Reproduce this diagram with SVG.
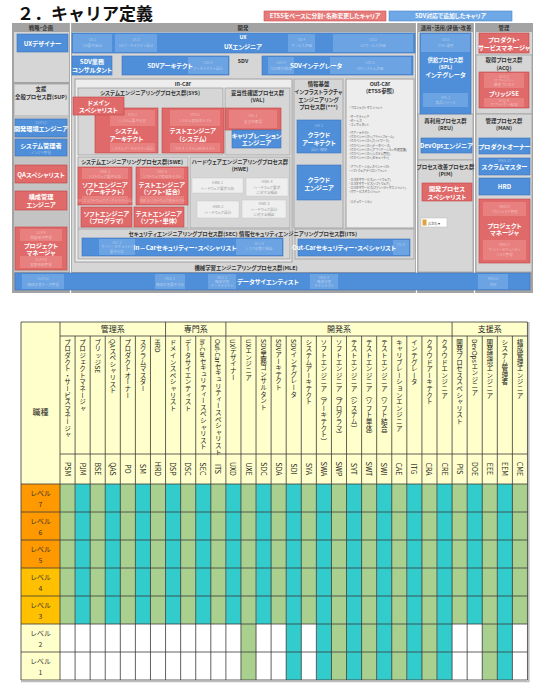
<svg xmlns="http://www.w3.org/2000/svg" width="545" height="692" viewBox="0 0 545 692">
<style>
text{font-family:"Noto Sans CJK JP","Noto Sans",sans-serif;}
.ti{font-size:17px;font-weight:bold;fill:#111}
.lg{font-size:5.8px;font-weight:bold;fill:#fff;text-anchor:middle;font-feature-settings:"palt"}
.bx{font-size:6.2px;font-weight:bold;fill:#fff;text-anchor:middle;font-feature-settings:"palt"}
.bs{font-size:5.2px;font-weight:bold;fill:#fff;text-anchor:middle;font-feature-settings:"palt"}
.hd{font-size:5.4px;font-weight:bold;fill:#333;text-anchor:middle;font-feature-settings:"palt"}
.fb{font-size:3.6px;fill:#fff;fill-opacity:.45;text-anchor:middle;font-feature-settings:"palt"}
.fg{font-size:3.6px;fill:#9a9a9a;text-anchor:middle;font-feature-settings:"palt"}
.ls{font-size:3px;fill:#555;font-feature-settings:"palt"}
.blue{fill:#4F8FD9;stroke:#3C74B8;stroke-width:.6}
.bsub{fill:#74A9E5;fill-opacity:.75}
.red{fill:#E06A6A;stroke:#BF4545;stroke-width:.6}
.rsub{fill:#EC8A8A;fill-opacity:.7}
.pan{fill:#D6D6D6;stroke:#A0A0A0;stroke-width:.8}
.lite{fill:#EDEDED;stroke:#A0A0A0;stroke-width:1}
.hw{fill:#EFEFEF;stroke:#C8C8C8;stroke-width:.5}
.vn{font-size:6.6px;fill:#222;writing-mode:vertical-rl}
.vc{font-size:7px;fill:#222;writing-mode:vertical-rl;text-anchor:middle}
.cat{font-size:8px;fill:#222;text-anchor:middle}
.lv{font-size:6.8px;fill:#333;text-anchor:middle}
.grid{fill:none;stroke:#3a3a3a;stroke-width:.8}
</style>
<defs>
<pattern id="stripe" x="60" y="0" width="30.16" height="10" patternUnits="userSpaceOnUse">
<rect x="0" y="0" width="15.08" height="10" fill="#A9D08E"/>
<rect x="15.08" y="0" width="15.08" height="10" fill="#33CCCC"/>
</pattern>
</defs>
<rect width="545" height="692" fill="#fff"/>

<text x="17" y="20" class="ti">２．キャリア定義</text>

<g id="legend-etss"><rect x="264" y="11" width="122" height="10" fill="#E77B7B" stroke="#C95050" stroke-width=".6"/><text x="325" y="18.2" class="lg">ETSSをベースに分割・名称変更したキャリア</text></g>
<g id="legend-sdv"><rect x="389" y="11" width="123" height="10" fill="#6FA8E6" stroke="#4A86C5" stroke-width=".6"/><text x="450.5" y="18.2" class="lg">SDV対応で追加したキャリア</text></g>

<g id="frame">
<rect x="12" y="23" width="521" height="270" fill="#A3A3A3"/>
<text x="41" y="30.2" class="hd">戦略・企画</text>
<text x="243" y="30.2" class="hd">開発</text>
<text x="446" y="30.2" class="hd">運用・活用/評価・改善</text>
<text x="504" y="30.2" class="hd">管理</text>
<rect x="14" y="32" width="55" height="50" fill="#D6D6D6"/>
<rect x="14" y="84" width="55" height="188" fill="#C4C4C4"/>
<rect x="15" y="85" width="53" height="30" fill="#DCDCDC"/>
<rect x="72" y="32" width="343" height="240" fill="#D6D6D6"/>
<rect x="418" y="32" width="55" height="240" fill="#D6D6D6"/>
<rect x="418" y="114" width="55" height="46" class="pan"/>
<rect x="418" y="160" width="55" height="112" class="pan"/>
<rect x="476" y="32" width="56" height="240" fill="#D6D6D6"/>
<rect x="476" y="55" width="56" height="59" class="pan"/>
<rect x="476" y="114" width="56" height="158" class="pan"/>
<path d="M70.5 23V293M416.5 23V293M474.5 23V293" stroke="#fff" stroke-width="1.2"/>
<text x="41" y="90.5" class="hd">支援</text>
<text x="41" y="99" class="hd">全般プロセス群(SUP)</text>
<text x="243" y="63" class="hd">SDV</text>
<rect x="75" y="79" width="217" height="183" class="lite"/>
<text x="183" y="86" class="hd">In-Car</text>
<rect x="78" y="88" width="145" height="67" class="pan"/>
<text x="150" y="95" class="hd">システムエンジニアリングプロセス群(SYS)</text>
<rect x="225" y="88" width="65" height="67" class="pan"/>
<text x="257.5" y="95" class="hd">妥当性確認プロセス群</text>
<text x="257.5" y="102" class="hd">(VAL)</text>
<rect x="78" y="157" width="110" height="71" class="pan"/>
<text x="132" y="164" class="hd">システムエンジニアリングプロセス群(SWE)</text>
<rect x="190" y="157" width="100" height="71" class="pan"/>
<text x="240" y="164" class="hd">ハードウェアエンジニアリングプロセス群</text>
<text x="240" y="171" class="hd">(HWE)</text>
<rect x="78" y="229" width="212" height="30" class="pan"/>
<text x="183" y="236" class="hd">セキュリティエンジニアリングプロセス群(SEC)</text>
<rect x="294" y="79" width="49" height="149" class="pan"/>
<text x="318.5" y="86" class="hd">情報基盤</text>
<text x="318.5" y="94" class="hd">インフラストラクチャ</text>
<text x="318.5" y="101.5" class="hd">エンジニアリング</text>
<text x="318.5" y="109" class="hd">プロセス群(***)</text>
<rect x="346" y="79" width="68" height="149" class="lite"/>
<text x="380" y="86" class="hd">Out-Car</text>
<text x="380" y="93" class="hd">(ETSS参照)</text>
<g class="ls">
<text x="349" y="108.5">・プロジェクトマネジメント</text>
<text x="349" y="117.5">・マーケティング</text>
<text x="349" y="121.7">・セールス</text>
<text x="349" y="125.9">・コンサルタント</text>
<text x="349" y="134">・ITアーキテクト</text>
<text x="349" y="138.2">・ITスペシャリスト(プラットフォーム)</text>
<text x="349" y="142.4">・ITスペシャリスト(ネットワーク)</text>
<text x="349" y="146.6">・ITスペシャリスト(データベース)</text>
<text x="349" y="150.8">・ITスペシャリスト(アプリケーション共通基盤)</text>
<text x="349" y="155">・ITスペシャリスト(システム管理)</text>
<text x="349" y="159.2">・ITスペシャリスト(セキュリティ)</text>
<text x="349" y="168">・アプリケーションスペシャリスト</text>
<text x="349" y="172.2">・ソフトウェアデベロップメント</text>
<text x="349" y="180.5">・カスタマサービス(ハードウェア)</text>
<text x="349" y="184.7">・カスタマサービス(ソフトウェア)</text>
<text x="349" y="188.9">・カスタマサービス(ファシリティマネジメント)</text>
<text x="349" y="193.1">・ITサービスマネジメント</text>
<text x="349" y="203">・エデュケーション</text>
</g>
<rect x="295" y="229" width="119" height="30" class="pan"/>
<text x="298" y="236" class="hd" text-anchor="start">情報セキュリティエンジニアリングプロセス群(ITS)</text>
<text x="246" y="269.5" class="hd">機械学習エンジニアリングプロセス群(MLE)</text>
<text x="445.5" y="122.5" class="hd">再利用プロセス群</text>
<text x="445.5" y="130" class="hd">(REU)</text>
<text x="445.5" y="168.5" class="hd">プロセス改善プロセス群</text>
<text x="445.5" y="176" class="hd">(PIM)</text>
<text x="504" y="62" class="hd">取得プロセス群</text>
<text x="504" y="69.5" class="hd">(ACQ)</text>
<text x="504" y="122.5" class="hd">管理プロセス群</text>
<text x="504" y="130" class="hd">(MAN)</text>
</g>

<g id="ux-designer"><rect x="17" y="34" width="51" height="18" class="blue"/><text x="42.5" y="45.5" class="bx">UXデザイナー</text></g>
<g id="ux-engineer"><rect x="72" y="33" width="343" height="20" class="blue"/>
<rect x="73" y="34" width="39" height="18" class="bsub"/><text x="92.5" y="41" class="fb">UX.2</text><text x="92.5" y="47" class="fb">UX要件抽出</text>
<rect x="115" y="34" width="42" height="18" class="bsub"/><text x="136" y="41" class="fb">UX.3</text><text x="136" y="47" class="fb">UXアーキテクチャ設計</text>
<rect x="288" y="34" width="27" height="18" class="bsub"/><text x="301.5" y="41" class="fb">UX.4</text><text x="301.5" y="47" class="fb">サービス評価</text>
<rect x="333" y="34" width="80" height="18" class="bsub"/><text x="373" y="41" class="fb">UX.5</text><text x="373" y="47" class="fb">UXサービス評価</text>
<text x="243" y="38.8" class="bs">UX</text><text x="243" y="48.5" class="bx">UXエンジニア</text></g>
<g id="psm"><rect x="479" y="33" width="50" height="20" class="red"/><text x="504" y="41.5" class="bx">プロダクト・</text><text x="504" y="49.5" class="bx">サービスマネージャ</text></g>

<g id="sdc"><rect x="72" y="56" width="40" height="19" class="blue"/><text x="92" y="64" class="bx">SDV業務</text><text x="92" y="71.5" class="bx">コンサルタント</text></g>
<g id="sda"><rect x="122" y="56" width="107" height="19" class="blue"/><rect x="188" y="57" width="40" height="17" class="bsub"/><text x="208" y="64" class="fb">SDV.3</text><text x="208" y="69.5" class="fb">アーキテクチャ設計</text><text x="170" y="68" class="bx">SDVアーキテクト</text></g>
<g id="sdi"><rect x="262" y="56" width="151" height="19" class="blue"/><rect x="268" y="57" width="26" height="17" class="bsub"/><text x="281" y="64" class="fb">SDV.4</text><text x="281" y="69.5" class="fb">SDV動作検証</text><rect x="330" y="57" width="81" height="17" class="bsub"/><text x="370" y="64" class="fb">SDV.5</text><text x="370" y="69.5" class="fb">SDVシステム評価</text><text x="316" y="68" class="bx">SDVインテグレータ</text></g>

<g id="spl-integrator"><rect x="420" y="33" width="51" height="81" class="blue"/><rect x="421" y="34" width="49" height="18" class="bsub"/><text x="445.5" y="41" class="fb">UX.6</text><text x="445.5" y="47" class="fb">OTA・運用</text>
<text x="445.5" y="62" class="bs">供給プロセス群</text><text x="445.5" y="69" class="bs">(SPL)</text><text x="445.5" y="77" class="bx">インテグレータ</text>
<rect x="423" y="93" width="45" height="14" class="bsub"/><text x="445.5" y="99" class="fb">SPL.2</text><text x="445.5" y="104" class="fb">製品リリース</text></g>

<g id="sya"><rect x="95" y="108" width="63" height="45" class="red"/><rect x="110" y="110" width="45" height="16" class="rsub"/><text x="132.5" y="116" class="fb">SYS.2</text><text x="132.5" y="121.5" class="fb">システム要件分析</text><rect x="110" y="143" width="45" height="9" class="rsub"/><text x="132.5" y="149.5" class="fb">システムアーキテクチャ設計</text><text x="126.5" y="133" class="bx">システム</text><text x="126.5" y="141" class="bx">アーキテクト</text></g>
<g id="dsp"><rect x="73" y="97" width="51" height="18" class="red"/><text x="98.5" y="104.5" class="bx">ドメイン</text><text x="98.5" y="112" class="bx">スペシャリスト</text></g>
<g id="syt"><rect x="162" y="108" width="62" height="45" class="red"/><rect x="170" y="110" width="50" height="16" class="rsub"/><text x="195" y="116" class="fb">SYS.5</text><text x="195" y="121.5" class="fb">システム適格性テスト</text><rect x="170" y="143" width="50" height="9" class="rsub"/><text x="195" y="149.5" class="fb">SYS.4 システム統合テスト</text><text x="193" y="133" class="bx">テストエンジニア</text><text x="193" y="141" class="bx">（システム）</text></g>
<g id="val1"><rect x="225" y="108" width="56" height="22" class="red"/><rect x="229" y="110" width="48" height="18" class="rsub"/><text x="253" y="117" class="fb">VAL.1</text><text x="253" y="123" class="fb">妥当性確認</text></g>
<g id="cae"><rect x="232" y="130" width="49" height="18" class="blue"/><text x="256.5" y="137.5" class="bx">キャリブレーション</text><text x="256.5" y="145" class="bx">エンジニア</text></g>

<g id="swa"><rect x="78" y="167" width="54" height="38" class="red"/><rect x="82" y="168" width="46" height="11" class="rsub"/><text x="105" y="172.5" class="fb">SWE.1</text><text x="105" y="177.5" class="fb">ソフトウェア要件分析</text><rect x="82" y="196" width="46" height="8" class="rsub"/><text x="105" y="201.5" class="fb">SWE.2 ソフトウェアアーキテクチャ設計</text><text x="105" y="186.5" class="bx">ソフトエンジニア</text><text x="105" y="194" class="bx">（アーキテクト）</text></g>
<g id="swi"><rect x="136" y="167" width="52" height="38" class="red"/><rect x="140" y="168" width="44" height="11" class="rsub"/><text x="162" y="172.5" class="fb">SWE.6</text><text x="162" y="177.5" class="fb">ソフトウェア適格性テスト</text><rect x="140" y="196" width="44" height="8" class="rsub"/><text x="162" y="201.5" class="fb">SWE.5 ソフトウェア統合テスト</text><text x="162" y="186.5" class="bx">テストエンジニア</text><text x="162" y="194" class="bx">（ソフト・結合）</text></g>
<g id="swp"><rect x="81" y="207" width="51" height="20" class="red"/><text x="106.5" y="215.5" class="bx">ソフトエンジニア</text><text x="106.5" y="223" class="bx">（プログラマ）</text></g>
<g id="swt"><rect x="134" y="207" width="50" height="20" class="red"/><text x="159" y="215.5" class="bx">テストエンジニア</text><text x="159" y="223" class="bx">（ソフト・単体）</text></g>

<g id="hwe1"><rect x="192" y="178" width="51" height="15" class="hw"/><text x="217.5" y="184" class="fg">HWE.1</text><text x="217.5" y="190" class="fg">ハードウェア要求分析</text></g>
<g id="hwe4"><rect x="246" y="178" width="42" height="18" class="hw"/><text x="267" y="183" class="fg">HWE.4</text><text x="267" y="188.5" class="fg">ハードウェア要求</text><text x="267" y="194" class="fg">に対する検証</text></g>
<g id="hwe2"><rect x="197" y="201" width="42" height="17" class="hw"/><text x="218" y="207.5" class="fg">HWE.2</text><text x="218" y="213.5" class="fg">ハードウェア設計</text></g>
<g id="hwe3"><rect x="242" y="200" width="44" height="18" class="hw"/><text x="264" y="205" class="fg">HWE.3</text><text x="264" y="210.5" class="fg">ハードウェア設計</text><text x="264" y="216" class="fg">に対する検証</text></g>

<g id="sec"><rect x="82" y="238" width="201" height="18" class="blue"/><rect x="99" y="239" width="36" height="16" class="bsub"/><text x="117" y="243.8" class="fb">SEC.1</text><text x="117" y="248.3" class="fb">サイバーセキュリティ</text><text x="117" y="252.8" class="fb">要件分析</text><rect x="236" y="239" width="46" height="16" class="bsub"/><text x="259" y="245" class="fb">SEC.4</text><text x="259" y="250" class="fb">リスク処置の検証</text><text x="185" y="250" class="bx">In－Carセキュリティー・スペシャリスト</text></g>

<g id="cra"><rect x="297" y="120" width="44" height="33" class="blue"/><text x="319" y="127" class="fb">INF.1</text><text x="319" y="151" class="fb">設計・構築</text><text x="319" y="137" class="bx">クラウド</text><text x="319" y="144.5" class="bx">アーキテクト</text></g>
<g id="cre"><rect x="297" y="165" width="44" height="35" class="blue"/><text x="319" y="182" class="bx">クラウド</text><text x="319" y="189.5" class="bx">エンジニア</text></g>
<g id="its"><rect x="298" y="239" width="112" height="17" class="blue"/><rect x="393" y="240" width="16" height="15" class="bsub"/><text x="401" y="246" class="fb">ITS.4</text><text x="344" y="250" class="bx">Out-Carセキュリティー・スペシャリスト</text></g>

<g id="dsc"><rect x="15" y="273" width="515" height="17" class="blue"/>
<rect x="22" y="274" width="42" height="15" class="bsub"/><text x="43" y="280" class="fb">SUP.11</text><text x="43" y="285.5" class="fb">機械学習データ管理</text>
<rect x="155" y="274" width="30" height="15" class="bsub"/><text x="170" y="280" class="fb">MLE.1</text><text x="170" y="285.5" class="fb">機械学習要件分析</text>
<rect x="208" y="274" width="28" height="15" class="bsub"/><text x="222" y="279" class="fb">MLE.2</text><text x="222" y="283" class="fb">機械学習</text><text x="222" y="287" class="fb">アーキテクチャ</text>
<rect x="310" y="274" width="28" height="15" class="bsub"/><text x="324" y="279" class="fb">MLE.4</text><text x="324" y="283" class="fb">機械学習</text><text x="324" y="287" class="fb">モデルテスト</text>
<rect x="478" y="274" width="30" height="15" class="bsub"/><text x="493" y="280" class="fb">MAN.6</text><text x="493" y="285.5" class="fb">測定</text>
<text x="268" y="284" class="bx">データサイエンティスト</text></g>

<g id="eee"><rect x="15" y="119" width="52" height="18" class="blue"/><text x="41" y="123.8" class="fb">SUP.12</text><text x="41" y="130.5" class="bx">開発環境エンジニア</text></g>
<g id="eem"><rect x="15" y="139" width="52" height="17" class="blue"/><text x="41" y="147.5" class="bx">システム管理者</text><text x="41" y="154" class="fb">インフラ管理</text></g>
<g id="qas"><rect x="15" y="165" width="52" height="18" class="red"/><text x="41" y="176.5" class="bx">QAスペシャリスト</text></g>
<g id="cme"><rect x="15" y="191" width="52" height="19" class="red"/><text x="41" y="199" class="bx">構成管理</text><text x="41" y="206.5" class="bx">エンジニア</text></g>
<g id="pjm-sup"><rect x="15" y="227" width="52" height="43" class="red"/><rect x="20" y="229" width="42" height="12" class="rsub"/><text x="41" y="233.5" class="fb">SUP.9</text><text x="41" y="239" class="fb">問題解決管理</text><rect x="20" y="256" width="42" height="12" class="rsub"/><text x="41" y="260.5" class="fb">SUP.10</text><text x="41" y="266" class="fb">変更依頼管理</text><text x="41" y="247.5" class="bx">プロジェクト</text><text x="41" y="255" class="bx">マネージャ</text></g>

<g id="doe"><rect x="421" y="138" width="51" height="15" class="blue"/><text x="446.5" y="148" class="bx">DevOpsエンジニア</text></g>
<g id="pis"><rect x="422" y="183" width="50" height="18" class="red"/><text x="447" y="191" class="bx">開発プロセス</text><text x="447" y="198.5" class="bx">スペシャリスト</text></g>
<g id="ctrl-tag"><rect x="421" y="218" width="26" height="9" fill="#fff" stroke="#bbb" stroke-width=".5"/><rect x="422.5" y="219.5" width="4" height="6" fill="#D9A441"/><text x="428" y="224.5" font-size="4" fill="#444">(Ctrl) ▾</text></g>

<g id="bse"><rect x="479" y="72" width="50" height="36" class="red"/><rect x="484" y="73" width="40" height="15" class="rsub"/><text x="504" y="77.5" class="fb">ACQ.2</text><text x="504" y="81.5" class="fb">サプライヤー</text><text x="504" y="86" class="fb">調達プロセス</text><rect x="484" y="98" width="40" height="9" class="rsub"/><text x="504" y="101.5" class="fb">ACQ.4</text><text x="504" y="105.5" class="fb">サプライヤー監視</text><text x="504" y="95.5" class="bx">ブリッジSE</text></g>
<g id="po"><rect x="479" y="138" width="51" height="16" class="blue"/><text x="504.5" y="148.5" class="bx">プロダクトオーナー</text></g>
<g id="sm"><rect x="479" y="158" width="51" height="17" class="blue"/><text x="504.5" y="162" class="fb">MAN.13</text><text x="504.5" y="169" class="bx">スクラムマスター</text></g>
<g id="hrd"><rect x="479" y="178" width="51" height="17" class="blue"/><text x="504.5" y="189" class="bx">HRD</text></g>
<g id="pjm-man"><rect x="479" y="199" width="51" height="64" class="red"/><rect x="483" y="202" width="43" height="14" class="rsub"/><text x="504.5" y="207.5" class="fb">MAN.3</text><text x="504.5" y="212.5" class="fb">プロジェクト管理</text><rect x="483" y="240" width="43" height="20" class="rsub"/><text x="504.5" y="246" class="fb">MAN.7</text><text x="504.5" y="251" class="fb">サイバーセキュリティ</text><text x="504.5" y="256" class="fb">リスク管理</text><text x="504.5" y="227.5" class="bx">プロジェクト</text><text x="504.5" y="235" class="bx">マネージャ</text></g>

<g id="table">
<rect x="21" y="322" width="506.5" height="162" fill="#FFFFCC"/>
<rect x="60" y="484" width="467.48" height="140" fill="url(#stripe)"/>
<rect x="60" y="624" width="467.48" height="56" fill="#fff"/>
<rect x="240.96" y="624" width="15.08" height="56" fill="#A9D08E"/>
<rect x="286.2" y="624" width="15.08" height="56" fill="#33CCCC"/>
<rect x="316.36" y="624" width="135.72" height="56" fill="url(#stripe)"/>
<rect x="482.24" y="624" width="30.16" height="56" fill="url(#stripe)"/>
<g id="levels">
<rect x="21" y="484" width="39" height="84" fill="#FF9900"/>
<rect x="21" y="568" width="39" height="56" fill="#FFC000"/>
<rect x="21" y="624" width="39" height="56" fill="#FFFFCC"/>
<text x="40.5" y="496" class="lv">レベル</text><text x="40.5" y="507" class="lv">7</text>
<text x="40.5" y="524" class="lv">レベル</text><text x="40.5" y="535" class="lv">6</text>
<text x="40.5" y="552" class="lv">レベル</text><text x="40.5" y="563" class="lv">5</text>
<text x="40.5" y="580" class="lv">レベル</text><text x="40.5" y="591" class="lv">4</text>
<text x="40.5" y="608" class="lv">レベル</text><text x="40.5" y="619" class="lv">3</text>
<text x="40.5" y="636" class="lv">レベル</text><text x="40.5" y="647" class="lv">2</text>
<text x="40.5" y="664" class="lv">レベル</text><text x="40.5" y="675" class="lv">1</text>
</g>
<text x="40.5" y="415" class="cat">職種</text>
<text x="112.8" y="332" class="cat">管理系</text>
<text x="195.7" y="332" class="cat">専門系</text>
<text x="339" y="332" class="cat">開発系</text>
<text x="489.8" y="332" class="cat">支援系</text>
<g id="names">
<text x="67.54" y="339" class="vn">プロダクト・サービスマネージャ</text>
<text x="82.62" y="339" class="vn">プロジェクトマネージャ</text>
<text x="97.70" y="339" class="vn">ブリッジSE</text>
<text x="112.78" y="339" class="vn">QAスペシャリスト</text>
<text x="127.86" y="339" class="vn">プロダクトオーナー</text>
<text x="142.94" y="339" class="vn">スクラムマスター</text>
<text x="158.02" y="339" class="vn">HRD</text>
<text x="173.10" y="339" class="vn">ドメインスペシャリスト</text>
<text x="188.18" y="339" class="vn">データサイエンティスト</text>
<text x="203.26" y="339" class="vn">In-Carセキュリティースペシャリスト</text>
<text x="218.34" y="339" class="vn">Out-Carセキュリティースペシャリスト</text>
<text x="233.42" y="339" class="vn">UXデザイナー</text>
<text x="248.50" y="339" class="vn">UXエンジニア</text>
<text x="263.58" y="339" class="vn">SDV業務コンサルタント</text>
<text x="278.66" y="339" class="vn">SDVアーキテクト</text>
<text x="293.74" y="339" class="vn">SDVインテグレータ</text>
<text x="308.82" y="339" class="vn">システムアーキテクト</text>
<text x="323.90" y="339" class="vn">ソフトエンジニア（アーキテクト）</text>
<text x="338.98" y="339" class="vn">ソフトエンジニア（プログラマ）</text>
<text x="354.06" y="339" class="vn">テストエンジニア（システム）</text>
<text x="369.14" y="339" class="vn">テストエンジニア（ソフト単体）</text>
<text x="384.22" y="339" class="vn">テストエンジニア（ソフト結合）</text>
<text x="399.30" y="339" class="vn">キャリブレーションエンジニア</text>
<text x="414.38" y="339" class="vn">インテグレータ</text>
<text x="429.46" y="339" class="vn">クラウドアーキテクト</text>
<text x="444.54" y="339" class="vn">クラウドエンジニア</text>
<text x="459.62" y="339" class="vn">開発プロセススペシャリスト</text>
<text x="474.70" y="339" class="vn">DevOpsエンジニア</text>
<text x="489.78" y="339" class="vn">開発環境エンジニア</text>
<text x="504.86" y="339" class="vn">システム管理者</text>
<text x="519.94" y="339" class="vn">構成管理エンジニア</text>
</g>
<g id="codes">
<text x="67.54" y="469" class="vc">PSM</text>
<text x="82.62" y="469" class="vc">PJM</text>
<text x="97.70" y="469" class="vc">BSE</text>
<text x="112.78" y="469" class="vc">QAS</text>
<text x="127.86" y="469" class="vc">PO</text>
<text x="142.94" y="469" class="vc">SM</text>
<text x="158.02" y="469" class="vc">HRD</text>
<text x="173.10" y="469" class="vc">DSP</text>
<text x="188.18" y="469" class="vc">DSC</text>
<text x="203.26" y="469" class="vc">SEC</text>
<text x="218.34" y="469" class="vc">ITS</text>
<text x="233.42" y="469" class="vc">UXD</text>
<text x="248.50" y="469" class="vc">UXE</text>
<text x="263.58" y="469" class="vc">SDC</text>
<text x="278.66" y="469" class="vc">SDA</text>
<text x="293.74" y="469" class="vc">SDI</text>
<text x="308.82" y="469" class="vc">SYA</text>
<text x="323.90" y="469" class="vc">SWA</text>
<text x="338.98" y="469" class="vc">SWP</text>
<text x="354.06" y="469" class="vc">SYT</text>
<text x="369.14" y="469" class="vc">SWT</text>
<text x="384.22" y="469" class="vc">SWI</text>
<text x="399.30" y="469" class="vc">CAE</text>
<text x="414.38" y="469" class="vc">ITG</text>
<text x="429.46" y="469" class="vc">CRA</text>
<text x="444.54" y="469" class="vc">CRE</text>
<text x="459.62" y="469" class="vc">PIS</text>
<text x="474.70" y="469" class="vc">DOE</text>
<text x="489.78" y="469" class="vc">EEE</text>
<text x="504.86" y="469" class="vc">EEM</text>
<text x="519.94" y="469" class="vc">CME</text>
</g>
<path class="grid" d="M21 322H527.48M60 336H527.48M60 454H527.48M21 484H527.48M21 512H527.48M21 540H527.48M21 568H527.48M21 596H527.48M21 624H527.48M21 652H527.48M21 680H527.48M21 322V680M60 322V680M165.56 322V336M225.88 322V336M452.08 322V336M527.48 322V680"/>
<path class="grid" d="M75.08 336V680M90.16 336V680M105.24 336V680M120.32 336V680M135.40 336V680M150.48 336V680M165.56 336V680M180.64 336V680M195.72 336V680M210.80 336V680M225.88 336V680M240.96 336V680M256.04 336V680M271.12 336V680M286.20 336V680M301.28 336V680M316.36 336V680M331.44 336V680M346.52 336V680M361.60 336V680M376.68 336V680M391.76 336V680M406.84 336V680M421.92 336V680M437.00 336V680M452.08 336V680M467.16 336V680M482.24 336V680M497.32 336V680M512.40 336V680"/>
<path d="M528.8 322V681.5H21" fill="none" stroke="#BDBDBD" stroke-width="1.6"/>
</g>
</svg>
